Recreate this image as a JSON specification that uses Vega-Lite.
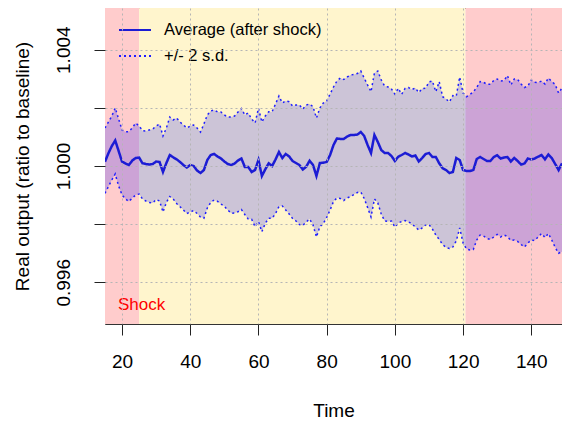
{
  "$schema": "https://vega.github.io/schema/vega-lite/v6.json",
  "width": 457,
  "height": 316,
  "autosize": {"type": "none"},
  "padding": {"left": 105, "top": 8, "right": 0, "bottom": 98},
  "background": "white",
  "config": {
    "font": "Liberation Sans",
    "view": {"stroke": "#333333", "strokeWidth": 1},
    "axis": {
      "domain": false,
      "grid": true,
      "gridColor": "#b5b5b5",
      "gridDash": [2, 3],
      "gridWidth": 1,
      "tickColor": "#222222",
      "tickSize": 11,
      "labelColor": "#000000",
      "labelFontSize": 19,
      "titleColor": "#000000",
      "titleFontSize": 19,
      "titleFontWeight": "normal"
    }
  },
  "datasets": {
    "periods": [
      {"start": 15, "end": 25, "phase": "Shock"},
      {"start": 25, "end": 120.7, "phase": "Post-shock"},
      {"start": 120.7, "end": 149, "phase": "Late"}
    ],
    "series": [
      {"t":15,"avg":1.000148,"upper":1.001307,"lower":0.999061},
      {"t":16,"avg":1.000437,"upper":1.001513,"lower":0.999295},
      {"t":17,"avg":1.000688,"upper":1.001720,"lower":0.999519},
      {"t":18,"avg":1.000877,"upper":1.001995,"lower":0.999725},
      {"t":19,"avg":1.000516,"upper":1.001616,"lower":0.999312},
      {"t":20,"avg":1.000148,"upper":1.001238,"lower":0.999003},
      {"t":21,"avg":1.000086,"upper":1.001180,"lower":0.998865},
      {"t":22,"avg":1.000034,"upper":1.001180,"lower":0.998779},
      {"t":23,"avg":1.000189,"upper":1.001307,"lower":0.998900},
      {"t":24,"avg":1.000275,"upper":1.001479,"lower":0.999003},
      {"t":25,"avg":1.000292,"upper":1.001376,"lower":0.999037},
      {"t":26,"avg":1.000093,"upper":1.001214,"lower":0.998865},
      {"t":27,"avg":1.000069,"upper":1.001204,"lower":0.998796},
      {"t":28,"avg":1.000052,"upper":1.001238,"lower":0.998745},
      {"t":29,"avg":1.000069,"upper":1.001272,"lower":0.998728},
      {"t":30,"avg":1.000155,"upper":1.001376,"lower":0.998848},
      {"t":31,"avg":1.000138,"upper":1.001444,"lower":0.998796},
      {"t":32,"avg":0.999794,"upper":1.001032,"lower":0.998418},
      {"t":33,"avg":1.000103,"upper":1.001307,"lower":0.998745},
      {"t":34,"avg":1.000378,"upper":1.001685,"lower":0.998951},
      {"t":35,"avg":1.000299,"upper":1.001582,"lower":0.998865},
      {"t":36,"avg":1.000230,"upper":1.001651,"lower":0.998710},
      {"t":37,"avg":1.000138,"upper":1.001513,"lower":0.998600},
      {"t":38,"avg":1.000034,"upper":1.001410,"lower":0.998487},
      {"t":39,"avg":0.999948,"upper":1.001307,"lower":0.998366},
      {"t":40,"avg":1.000034,"upper":1.001376,"lower":0.998418},
      {"t":41,"avg":1.000000,"upper":1.001410,"lower":0.998470},
      {"t":42,"avg":0.999845,"upper":1.001307,"lower":0.998366},
      {"t":43,"avg":0.999759,"upper":1.001169,"lower":0.998246},
      {"t":44,"avg":0.999862,"upper":1.001444,"lower":0.998201},
      {"t":45,"avg":1.000206,"upper":1.001754,"lower":0.998556},
      {"t":46,"avg":1.000378,"upper":1.001891,"lower":0.998745},
      {"t":47,"avg":1.000413,"upper":1.001926,"lower":0.998831},
      {"t":48,"avg":1.000327,"upper":1.001857,"lower":0.998786},
      {"t":49,"avg":1.000258,"upper":1.001857,"lower":0.998693},
      {"t":50,"avg":1.000155,"upper":1.001754,"lower":0.998614},
      {"t":51,"avg":1.000069,"upper":1.001685,"lower":0.998487},
      {"t":52,"avg":1.000034,"upper":1.001685,"lower":0.998373},
      {"t":53,"avg":1.000086,"upper":1.001720,"lower":0.998384},
      {"t":54,"avg":1.000189,"upper":1.001857,"lower":0.998428},
      {"t":55,"avg":1.000258,"upper":1.001977,"lower":0.998504},
      {"t":56,"avg":0.999966,"upper":1.001754,"lower":0.998332},
      {"t":57,"avg":0.999966,"upper":1.001823,"lower":0.998177},
      {"t":58,"avg":0.999794,"upper":1.001616,"lower":0.998167},
      {"t":59,"avg":0.999862,"upper":1.001479,"lower":0.997913},
      {"t":60,"avg":1.000206,"upper":1.001984,"lower":0.998084},
      {"t":61,"avg":0.999656,"upper":1.001513,"lower":0.997741},
      {"t":62,"avg":0.999887,"upper":1.001720,"lower":0.998029},
      {"t":63,"avg":1.000093,"upper":1.001867,"lower":0.998201},
      {"t":64,"avg":1.000000,"upper":1.001867,"lower":0.998201},
      {"t":65,"avg":1.000224,"upper":1.002132,"lower":0.998366},
      {"t":66,"avg":1.000481,"upper":1.002407,"lower":0.998607},
      {"t":67,"avg":1.000275,"upper":1.002167,"lower":0.998624},
      {"t":68,"avg":1.000413,"upper":1.002235,"lower":0.998487},
      {"t":69,"avg":1.000327,"upper":1.002211,"lower":0.998349},
      {"t":70,"avg":1.000172,"upper":1.002063,"lower":0.998195},
      {"t":71,"avg":1.000103,"upper":1.002098,"lower":0.998109},
      {"t":72,"avg":1.000034,"upper":1.002098,"lower":0.997988},
      {"t":73,"avg":0.999880,"upper":1.001960,"lower":0.997954},
      {"t":74,"avg":0.999976,"upper":1.002098,"lower":0.998074},
      {"t":75,"avg":1.000182,"upper":1.002132,"lower":0.998177},
      {"t":76,"avg":1.000034,"upper":1.002039,"lower":0.997971},
      {"t":77,"avg":0.999656,"upper":1.001651,"lower":0.997558},
      {"t":78,"avg":1.000103,"upper":1.001995,"lower":0.997913},
      {"t":79,"avg":1.000113,"upper":1.002167,"lower":0.998023},
      {"t":80,"avg":1.000138,"upper":1.002235,"lower":0.998229},
      {"t":81,"avg":1.000378,"upper":1.002476,"lower":0.998487},
      {"t":82,"avg":1.000722,"upper":1.002717,"lower":0.998779},
      {"t":83,"avg":1.000946,"upper":1.002923,"lower":0.998900},
      {"t":84,"avg":1.000929,"upper":1.003026,"lower":0.998882},
      {"t":85,"avg":1.000929,"upper":1.002975,"lower":0.998814},
      {"t":86,"avg":1.001014,"upper":1.003061,"lower":0.998900},
      {"t":87,"avg":1.001066,"upper":1.003129,"lower":0.998951},
      {"t":88,"avg":1.001066,"upper":1.003147,"lower":0.999020},
      {"t":89,"avg":1.001083,"upper":1.003181,"lower":0.999089},
      {"t":90,"avg":1.001169,"upper":1.003267,"lower":0.999106},
      {"t":91,"avg":1.001032,"upper":1.003026,"lower":0.998882},
      {"t":92,"avg":1.000722,"upper":1.002786,"lower":0.998573},
      {"t":93,"avg":1.000447,"upper":1.002555,"lower":0.998246},
      {"t":94,"avg":1.001066,"upper":1.003198,"lower":0.998865},
      {"t":95,"avg":1.000825,"upper":1.003267,"lower":0.998728},
      {"t":96,"avg":1.000550,"upper":1.002958,"lower":0.998349},
      {"t":97,"avg":1.000447,"upper":1.002751,"lower":0.998109},
      {"t":98,"avg":1.000447,"upper":1.002717,"lower":0.998091},
      {"t":99,"avg":1.000344,"upper":1.002648,"lower":0.998109},
      {"t":100,"avg":1.000172,"upper":1.002476,"lower":0.997902},
      {"t":101,"avg":1.000320,"upper":1.002672,"lower":0.998040},
      {"t":102,"avg":1.000378,"upper":1.002466,"lower":0.998091},
      {"t":103,"avg":1.000447,"upper":1.002672,"lower":0.998126},
      {"t":104,"avg":1.000395,"upper":1.002700,"lower":0.998074},
      {"t":105,"avg":1.000327,"upper":1.002631,"lower":0.998005},
      {"t":106,"avg":1.000361,"upper":1.002682,"lower":0.997902},
      {"t":107,"avg":1.000155,"upper":1.002528,"lower":0.997799},
      {"t":108,"avg":1.000275,"upper":1.002665,"lower":0.997868},
      {"t":109,"avg":1.000413,"upper":1.002672,"lower":0.997971},
      {"t":110,"avg":1.000447,"upper":1.002889,"lower":0.997988},
      {"t":111,"avg":1.000310,"upper":1.002923,"lower":0.997833},
      {"t":112,"avg":1.000310,"upper":1.002555,"lower":0.997627},
      {"t":113,"avg":1.000093,"upper":1.002899,"lower":0.997472},
      {"t":114,"avg":0.999921,"upper":1.002383,"lower":0.997300},
      {"t":115,"avg":0.999862,"upper":1.002304,"lower":0.997197},
      {"t":116,"avg":0.999759,"upper":1.002201,"lower":0.997163},
      {"t":117,"avg":0.999794,"upper":1.002424,"lower":0.997214},
      {"t":118,"avg":1.000275,"upper":1.002407,"lower":0.997421},
      {"t":119,"avg":1.000206,"upper":1.003061,"lower":0.997868},
      {"t":120,"avg":0.999862,"upper":1.002510,"lower":0.997352},
      {"t":121,"avg":0.999828,"upper":1.002383,"lower":0.997146},
      {"t":122,"avg":0.999828,"upper":1.002459,"lower":0.997111},
      {"t":123,"avg":0.999862,"upper":1.002545,"lower":0.997128},
      {"t":124,"avg":1.000241,"upper":1.002700,"lower":0.997455},
      {"t":125,"avg":1.000310,"upper":1.002906,"lower":0.997627},
      {"t":126,"avg":1.000241,"upper":1.002878,"lower":0.997593},
      {"t":127,"avg":1.000172,"upper":1.002810,"lower":0.997507},
      {"t":128,"avg":1.000172,"upper":1.002810,"lower":0.997472},
      {"t":129,"avg":1.000310,"upper":1.002940,"lower":0.997558},
      {"t":130,"avg":1.000368,"upper":1.002992,"lower":0.997644},
      {"t":131,"avg":1.000258,"upper":1.002923,"lower":0.997558},
      {"t":132,"avg":1.000292,"upper":1.002940,"lower":0.997627},
      {"t":133,"avg":1.000310,"upper":1.003112,"lower":0.997576},
      {"t":134,"avg":1.000155,"upper":1.002786,"lower":0.997438},
      {"t":135,"avg":1.000275,"upper":1.002992,"lower":0.997455},
      {"t":136,"avg":1.000172,"upper":1.002975,"lower":0.997404},
      {"t":137,"avg":1.000052,"upper":1.002820,"lower":0.997300},
      {"t":138,"avg":1.000086,"upper":1.002700,"lower":0.997214},
      {"t":139,"avg":1.000258,"upper":1.002751,"lower":0.997352},
      {"t":140,"avg":1.000224,"upper":1.002958,"lower":0.997455},
      {"t":141,"avg":1.000258,"upper":1.002878,"lower":0.997438},
      {"t":142,"avg":1.000320,"upper":1.002872,"lower":0.997558},
      {"t":143,"avg":1.000378,"upper":1.002923,"lower":0.997679},
      {"t":144,"avg":1.000230,"upper":1.002820,"lower":0.997541},
      {"t":145,"avg":1.000395,"upper":1.003026,"lower":0.997679},
      {"t":146,"avg":1.000275,"upper":1.002906,"lower":0.997455},
      {"t":147,"avg":1.000069,"upper":1.002803,"lower":0.997204},
      {"t":148,"avg":0.999862,"upper":1.002510,"lower":0.996998},
      {"t":149,"avg":1.000093,"upper":1.002682,"lower":0.997053}
    ]
  },
  "layer": [
    {
      "data": {"name": "periods"},
      "mark": {"type": "rect"},
      "encoding": {
        "x": {"field": "start", "type": "quantitative", "title": "Time",
              "scale": {"domain": [15, 149], "nice": false, "zero": false}},
        "x2": {"field": "end"},
        "fill": {"field": "phase", "type": "nominal", "legend": null,
                 "scale": {"domain": ["Shock", "Post-shock", "Late"], "range": ["#FFCCCC", "#FFF5CD", "#FFCCCC"]}}
      }
    },
    {
      "data": {"name": "series"},
      "mark": {"type": "area", "color": "#0000FF", "opacity": 0.2, "clip": true},
      "encoding": {
        "x": {"field": "t", "type": "quantitative", "title": "Time",
              "scale": {"domain": [15, 149], "nice": false, "zero": false},
              "axis": {"values": [20, 40, 60, 80, 100, 120, 140], "labelPadding": 17, "titleY": 86, "titleBaseline": "middle", "zindex": 1, "grid": true}},
        "y": {"field": "lower", "type": "quantitative", "title": "Real output (ratio to baseline)",
              "scale": {"domain": [0.994566, 1.005434], "nice": false, "zero": false},
              "axis": {"values": [0.996, 0.998, 1.0, 1.002, 1.004], "zindex": 1, "grid": true,
                       "labelExpr": "abs(datum.value - 0.998) < 0.00001 || abs(datum.value - 1.002) < 0.00001 ? '' : format(datum.value, '.3f')",
                       "labelAngle": -90, "labelAlign": "center", "labelBaseline": "bottom", "labelPadding": 21,
                       "titleX": -83, "titleY": 158, "titleAngle": -90, "titleAlign": "center", "titleBaseline": "middle"}},
        "y2": {"field": "upper"}
      }
    },
    {
      "data": {"name": "series"},
      "mark": {"type": "line", "strokeWidth": 1.5, "clip": true},
      "encoding": {
        "x": {"field": "t", "type": "quantitative", "title": "Time"},
        "y": {"field": "upper", "type": "quantitative", "title": "Real output (ratio to baseline)"},
        "color": {"datum": "+/- 2 s.d.", "type": "nominal"},
        "strokeDash": {"datum": "+/- 2 s.d.", "type": "nominal"}
      }
    },
    {
      "data": {"name": "series"},
      "mark": {"type": "line", "strokeWidth": 1.5, "clip": true},
      "encoding": {
        "x": {"field": "t", "type": "quantitative", "title": "Time"},
        "y": {"field": "lower", "type": "quantitative", "title": "Real output (ratio to baseline)"},
        "color": {"datum": "+/- 2 s.d.", "type": "nominal"},
        "strokeDash": {"datum": "+/- 2 s.d.", "type": "nominal"}
      }
    },
    {
      "data": {"name": "series"},
      "mark": {"type": "line", "strokeWidth": 2.5, "clip": true},
      "encoding": {
        "x": {"field": "t", "type": "quantitative", "title": "Time"},
        "y": {"field": "avg", "type": "quantitative", "title": "Real output (ratio to baseline)"},
        "color": {"datum": "Average (after shock)", "type": "nominal",
                  "scale": {"domain": ["Average (after shock)", "+/- 2 s.d."], "range": ["#1C1CD4", "#1E1EFF"]},
                  "legend": {"title": null, "orient": "none", "legendX": 13, "legendY": 5, "padding": 0,
                             "symbolType": "stroke", "symbolSize": 1024, "symbolStrokeWidth": 2,
                             "labelFontSize": 16.5, "labelColor": "#000000", "labelOffset": 12, "rowPadding": -3.5}},
        "strokeDash": {"datum": "Average (after shock)", "type": "nominal",
                       "scale": {"domain": ["Average (after shock)", "+/- 2 s.d."], "range": [[1, 0], [2, 3]]},
                       "legend": {"title": null, "orient": "none", "legendX": 13, "legendY": 5, "padding": 0,
                                  "symbolType": "stroke", "symbolSize": 1024, "symbolStrokeWidth": 2,
                                  "labelFontSize": 16.5, "labelColor": "#000000", "labelOffset": 12, "rowPadding": -3.5}}
      }
    },
    {
      "data": {"name": "periods"},
      "transform": [{"filter": {"field": "phase", "equal": "Shock"}}],
      "mark": {"type": "text", "align": "left", "baseline": "middle", "dx": 13, "color": "#FF0000", "fontSize": 17},
      "encoding": {
        "x": {"field": "start", "type": "quantitative", "title": "Time"},
        "y": {"datum": 0.995219, "type": "quantitative", "title": "Real output (ratio to baseline)"},
        "text": {"field": "phase"}
      }
    }
  ]
}
